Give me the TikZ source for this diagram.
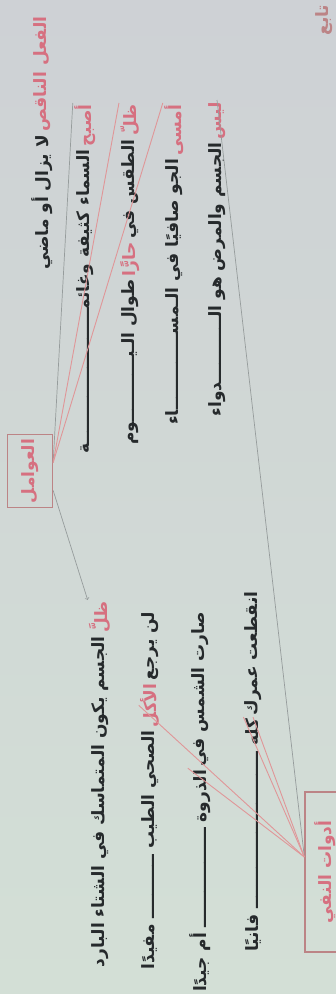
\documentclass[tikz,border=0pt]{standalone}
\usepackage{fontspec}
\usepackage{graphicx}
\usetikzlibrary{positioning}
\newfontfamily\arabicfont[Script=Arabic]{DejaVu Sans}
\TeXXeTstate=1
\definecolor{papertop}{RGB}{206,209,213}
\definecolor{paperbottom}{RGB}{211,223,214}
\definecolor{redink}{RGB}{214,112,128}
\definecolor{blackink}{RGB}{38,42,44}
\definecolor{redwire}{RGB}{224,150,152}
\definecolor{graywire}{RGB}{150,156,156}
\definecolor{boxline}{RGB}{188,132,134}
\newcommand{\vword}[1]{\rotatebox{90}{\arabicfont\bfseries\fontsize{17}{17}\selectfont\beginR #1\endR}}
\tikzset{word/.style={inner sep=1.5pt, text=blackink},
        key/.style={word, text=redink},
        frame/.style={draw=boxline, line width=1.3pt, text=redink, inner sep=2pt},
        link/.style={draw=redwire, line width=0.9pt},
        thin link/.style={draw=graywire, line width=0.7pt},
        }

\begin{document}
\begin{tikzpicture}[x=1pt,y=1pt]
    \useasboundingbox (0,0) rectangle (336,-994);
    \shade[top color=papertop, bottom color=paperbottom] (0,0) rectangle (336,-994);

    % upper half
    \node [key, text=boxline, anchor=north] (corner) at (324,-3) {\vword{تابع}};

    \node [key, anchor=north] (l1key) at (42,-15) {\vword{الفعل الناقص}};
    \node [word, below=0pt of l1key] (l1) {\vword{لا يزال أو ماضي}};

    \node [key, anchor=north] (l2key) at (85,-103) {\vword{أصبح}};
    \node [word, below=0pt of l2key] (l2) {\vword{السماء كثيفة وغائمـــــــــــــــــــــــة}};

    \node [key, anchor=north] (l3key) at (130,-103) {\vword{ظلّ}};
    \node [word, below=0pt of l3key] (l3a) {\vword{الطقس في}};
    \node [key, below=0pt of l3a] (l3b) {\vword{حارًّا}};
    \node [word, below=0pt of l3b] (l3c) {\vword{طوال الـيـــــــــــوم}};

    \node [key, anchor=north] (l4key) at (174,-103) {\vword{أمسى}};
    \node [word, below=0pt of l4key] (l4) {\vword{الجو صافيًا في الـمســـــــــــــاء}};

    \node [key, anchor=north] (l5key) at (217,-100) {\vword{ليس}};
    \node [word, below=0pt of l5key] (l5) {\vword{الجسم والمرض هو الـــــــــــدواء}};

    \node [frame, minimum width=45pt, minimum height=73pt] (factors) at (30,-471) {\vword{العوامل}};

    % lower half
    \node [key, anchor=north] (m1key) at (100,-600) {\vword{ظلَّ}};
    \node [word, below=0pt of m1key] (m1) {\vword{الجسم يكون المتماسك في الشتاء البارد}};

    \node [word, anchor=north] (m2a) at (150,-610) {\vword{لن يرجع}};
    \node [key, below=0pt of m2a] (m2key) {\vword{الأكل}};
    \node [word, below=0pt of m2key] (m2b) {\vword{الصحي الطيب ـــــــــــ مفيدًا}};

    \node [word, anchor=north] (m3a) at (200,-610) {\vword{صارت الشمس في}};
    \node [word, below=0pt of m3a] (m3b) {\vword{الذروة ـــــــــــــــــ أم جيدًا}};

    \node [word, anchor=north] (m4a) at (253,-590) {\vword{انقطعت عمرك}};
    \node [word, below=0pt of m4a] (m4b) {\vword{كله ـــــــــــــــــــــــــــ فانيًا}};

    \node [frame, minimum width=40pt, minimum height=160pt] (tools) at (325,-872) {\vword{أدوات النفي}};

    % links
    \draw [thin link] (factors.20) -- (l2key.north west);
    \draw [link] (factors.20) -- (l3key.north west);
    \draw [link] (factors.20) -- (l4key.north west);
    \draw [thin link, ->] (factors.-40) -- (m1key.north west);

    \draw [thin link] (l5key.north) -- ([yshift=15pt]tools.west);
    \draw [link] ([yshift=15pt]tools.west) -- (m2key.west);
    \draw [link] ([yshift=15pt]tools.west) -- (m3b.north west);
    \draw [link] ([yshift=15pt]tools.west) -- (m4b.north west);
    \draw [link] ([yshift=15pt]tools.west) -- (m4b.north);
\end{tikzpicture}
\end{document}
